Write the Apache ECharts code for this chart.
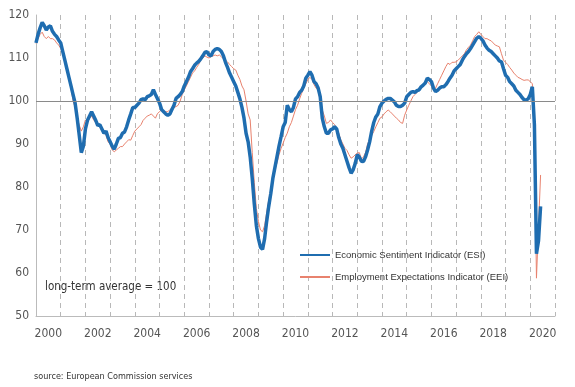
<!DOCTYPE html>
<html>
<head>
<meta charset="utf-8">
<script src="https://cdn.jsdelivr.net/npm/echarts@6/dist/echarts.min.js"></script>
<style>
html,body{margin:0;padding:0;background:#fff;}
#chart{width:575px;height:387px;}
</style>
</head>
<body>
<div id="chart"></div>
<script>
// Year categories shown on the x axis (labels centred in each year band)
const years = ['2000','2001','2002','2003','2004','2005','2006','2007','2008','2009','2010',
  '2011','2012','2013','2014','2015','2016','2017','2018','2019','2020'];
const startYear = 2000; // first monthly observation: January 2000

// Economic Sentiment Indicator (ESI), monthly from Jan 2000
const esi = [
  113.5,115.5,117,118.3,117.5,116.5,117.2,117.5,116.2,115.5,115,114.2,
  113.5,111.5,109.5,107.5,105.5,103.5,101.5,99.5,96,92,88,89.5,
  93.5,95.5,96.5,97.5,96.5,95.5,94.3,94.5,93.5,92.5,93,91.5,
  90.5,89.5,88.8,90,91.3,91.5,92.5,92.8,94,95.6,97,98.5,
  98.5,99,99.5,100.3,100.5,100.3,101,101.2,101.5,102.6,101.5,100.5,
  99.5,98,97.5,97,96.7,97,98,99,100.6,101,101.5,102.2,
  103.5,104.5,105.5,106.8,107.5,108.3,108.8,109.2,109.8,110.5,111.3,111.5,
  110.7,110.5,111.5,112,112.2,112,111.5,110.5,109,107.8,106.5,105.5,
  104.5,103.5,102,100.5,98.5,96,92.5,90.5,87,82,76,71,
  68,66,65.5,68,72,75.5,78.5,82,84.5,87,89.5,91.7,
  94,95,99,98,97.5,98.5,100.5,101,102,102.5,103.5,105.3,
  106,106.8,106,104.5,104,103,101,96,94,92.5,92.5,93.3,
  93.5,94,93.5,91.5,90,89,87.5,86,84.5,83.2,84,85.5,
  87.5,87,86,85.9,87,88.6,90.5,93,95,96.3,97,98.7,
  99.5,100,100.4,100.6,100.6,100.2,99.8,99,98.7,98.7,99,99.5,
  101,101.5,102,102.2,102,102.4,102.6,103.3,103.7,104.2,105.3,105,
  104.5,103,102.2,102.5,103,103.3,103.3,103.8,104.5,105.3,106,107,
  107.5,108,108.5,109.5,110.3,111,111.5,112.2,113,113.8,114.6,115,
  114.6,114,113,112.3,111.8,111.5,111,110.5,110,109.3,109.1,107.5,
  106,105.5,104.5,104,103.5,102.5,102,101.5,100.8,100.3,100.2,100.5,
  101.5,103.3,94.5,64.5,67.5,75.5
];

// Employment Expectations Indicator (EEI), monthly from Jan 2000
const eei = [
  113.4,114.5,115.5,116,115,114.5,115,114.5,114.5,114.2,113.5,113,
  112.2,111,109.5,107.5,105,103,100,98.5,96,94.4,93,94,
  95.6,95,96,96.5,95.6,95,94.5,94,93,92.9,92,90.5,
  90,88.6,88.2,88.6,89,89.4,89.4,90,90.5,91,90.9,92,
  93,93.5,94,94.5,95.5,96,96.5,96.7,97,96.5,96,97.1,
  97.5,98,97.5,97.5,97.5,98,98.3,98.5,98.7,99,100,101.5,
  102.6,103.5,104.5,105.5,106.5,107,107.8,108.5,109.5,110,110.5,110.2,
  110,110.3,110.5,110.7,110.5,110.7,110.3,109.8,109.5,109.1,108.5,108,
  107.5,107.2,106,105,103.5,102.6,100,97,95.6,88,81,75,
  72,70,69.6,71,74,77,79.3,82,84,85.6,87.5,89,
  90.2,91.5,92.5,94,95,96.5,98,99,100.5,101.8,103,104,
  105,105.5,105,103.8,103,102.5,100,97.9,96.5,94.8,95,95.6,
  95,94.5,93.5,92.5,91,90,89,88.5,87.5,86.7,87,87.5,
  87.9,88,86.5,87,88,90,91,92,92.9,94,95,96,
  96.3,97,97.5,97.9,97.5,97,96.5,96,95.6,95,94.8,96.7,
  97.9,99,100,101,101.5,102,102.6,103,103.5,104,104.5,104,
  103.5,103,103,104,105,106,107,108,108.8,108.5,109,109,
  109.1,109.5,110,110.5,111,111.9,112.5,113,114,115,115.5,116.1,
  115.5,115,114.5,114.5,114.2,114,113.5,113,112.8,112.6,111,109.5,
  109,108.5,107.8,107.2,106.5,106,105.5,105.3,105,104.8,104.9,104.9,
  104.5,104,93,58.8,71,82.8
];

const yTicks = {min: 50, max: 120, interval: 10};
const longTermAverage = 100;

function toPairs(arr){ return arr.map((v,i)=>[startYear + i/12, v]); }

const FONT = '"Liberation Sans Narrow","DejaVu Sans Condensed","Liberation Sans",Arial,sans-serif';
const LFONT = '"Liberation Sans",Arial,sans-serif';

const chart = echarts.init(document.getElementById('chart'), null, {renderer:'canvas'});
chart.setOption({
  animation: false,
  backgroundColor: '#fff',
  grid: {left: 36, right: 20, top: 15, bottom: 71},
  legend: {
    orient: 'vertical',
    left: 294, top: 245,
    itemWidth: 30, itemHeight: 12, itemGap: 12,
    itemStyle: {opacity: 0},
    textStyle: {fontFamily: LFONT, fontSize: 9.5, color: '#333'},
    data: ['Economic Sentiment Indicator (ESI)','Employment Expectations Indicator (EEI)']
  },
  xAxis: [
    {
      type: 'category', data: years, boundaryGap: true,
      axisLine: {lineStyle: {color: '#bbb'}},
      axisTick: {show: false},
      axisLabel: {interval: 1, color: '#555', fontFamily: FONT, fontSize: 12, margin: 12},
      splitLine: {show: true, interval: 0, lineStyle: {color: '#b8b8b8', type: [5,4], width: 1}}
    },
    {type: 'value', min: 2000, max: 2021, show: false}
  ],
  yAxis: {
    type: 'value', min: yTicks.min, max: yTicks.max, interval: yTicks.interval,
    axisLine: {show: true, lineStyle: {color: '#bbb'}},
    axisTick: {show: false},
    splitLine: {show: false},
    axisLabel: {color: '#555', fontFamily: FONT, fontSize: 12, margin: 7}
  },
  series: [
    {
      name: 'Employment Expectations Indicator (EEI)', type: 'line', xAxisIndex: 1,
      data: toPairs(eei), symbol: 'none', showSymbol: false,
      lineStyle: {color: '#e8826e', width: 1}, itemStyle: {color: '#e8826e'},
      markLine: {
        silent: true, symbol: 'none', label: {show: false},
        lineStyle: {color: '#8a8a8a', type: 'solid', width: 1},
        data: [{yAxis: longTermAverage}]
      },
      z: 2
    },
    {
      name: 'Economic Sentiment Indicator (ESI)', type: 'line', xAxisIndex: 1,
      data: toPairs(esi), symbol: 'none', showSymbol: false,
      lineStyle: {color: '#1f6db0', width: 3.5}, itemStyle: {color: '#1f6db0'},
      z: 3
    }
  ],
  graphic: [
    {type: 'text', left: 45, top: 281,
     style: {text: 'long-term average = 100', fontFamily: FONT, fontSize: 11.5, fill: '#333'}},
    {type: 'text', left: 34, top: 372,
     style: {text: 'source: European Commission services', fontFamily: FONT, fontSize: 9, fill: '#333'}}
  ]
});
</script>
</body>
</html>
